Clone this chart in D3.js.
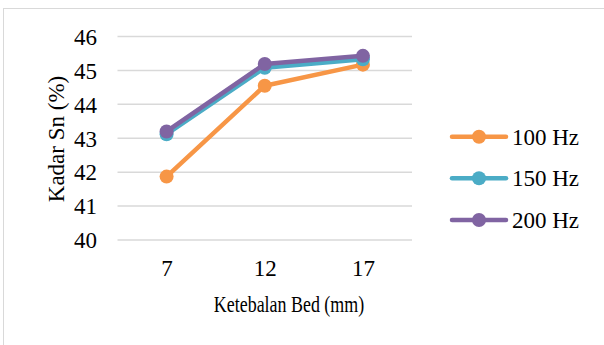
<!DOCTYPE html>
<html>
<head>
<meta charset="utf-8">
<script src="https://cdn.jsdelivr.net/npm/d3@7"></script>
<style>
  html, body { margin: 0; padding: 0; background: #fff; }
  svg { display: block; }
</style>
</head>
<body>
<svg id="chart" width="604" height="345"></svg>
<script>
const categories = ["7", "12", "17"];
const seriesNames = ["100 Hz", "150 Hz", "200 Hz"];
const values100 = [41.87, 44.55, 45.17];
const values150 = [43.12, 45.08, 45.33];
const values200 = [43.20, 45.19, 45.43];
const yTicks = [40, 41, 42, 43, 44, 45, 46];
const colors = ["#F79646", "#4BACC6", "#8064A2"];

const FONT = "Liberation Serif";
const series = [values100, values150, values200].map((v, i) => ({ name: seriesNames[i], values: v, color: colors[i] }));

const svg = d3.select("#chart");
svg.append("rect").attr("x", 3.5).attr("y", 8.5).attr("width", 620).attr("height", 360)
  .attr("fill", "#fff").attr("stroke", "#d9d9d9").attr("stroke-width", 1);

const x = d3.scalePoint().domain(categories).range([117.5, 412]).padding(0.5);
const y = d3.scaleLinear().domain([40, 46]).range([240, 36.5]);

// gridlines
svg.append("g").selectAll("line").data(yTicks).join("line")
  .attr("x1", 117.5).attr("x2", 412)
  .attr("y1", d => y(d)).attr("y2", d => y(d))
  .attr("stroke", "#d9d9d9").attr("stroke-width", 1.5);

// y axis labels
const yAxis = d3.axisLeft(y).tickValues(yTicks).tickSize(0).tickPadding(0).tickFormat(d3.format("d"));
const gy = svg.append("g").attr("transform", "translate(97,0)").call(yAxis);
gy.attr("font-family", null).attr("font-size", null);
gy.select(".domain").remove();
gy.selectAll("text").style("font-family", FONT).style("font-size", "23px").attr("dy", "0.34em").attr("fill", "#000");

// x axis labels
const xAxis = d3.axisBottom(x).tickSize(0).tickPadding(0);
const gx = svg.append("g").attr("transform", "translate(0,260)").call(xAxis);
gx.attr("font-family", null).attr("font-size", null);
gx.select(".domain").remove();
gx.selectAll("text").style("font-family", FONT).style("font-size", "23px").attr("dy", "0.71em").attr("fill", "#000");

// series
const line = d3.line().x((d, i) => x(categories[i])).y(d => y(d));
series.forEach(s => {
  const g = svg.append("g");
  g.append("path").attr("d", line(s.values)).attr("fill", "none")
    .attr("stroke", s.color).attr("stroke-width", 4.5).attr("stroke-linejoin", "round");
  g.selectAll("circle").data(s.values).join("circle")
    .attr("cx", (d, i) => x(categories[i])).attr("cy", d => y(d)).attr("r", 7)
    .attr("fill", s.color);
});

// axis titles
svg.append("text").attr("transform", "translate(289,312) scale(0.78,1)").attr("text-anchor", "middle")
  .style("font-family", FONT).style("font-size", "23px").text("Ketebalan Bed (mm)");
svg.append("text").attr("transform", "translate(64,139) rotate(-90)").attr("text-anchor", "middle")
  .style("font-family", FONT).style("font-size", "23px").text("Kadar Sn (%)");

// legend
const legendY = [136.7, 178.3, 220];
series.forEach((s, i) => {
  const g = svg.append("g").attr("transform", `translate(0,${legendY[i]})`);
  g.append("line").attr("x1", 452).attr("x2", 506).attr("y1", 0).attr("y2", 0)
    .attr("stroke", s.color).attr("stroke-width", 4.5).attr("stroke-linecap", "round");
  g.append("circle").attr("cx", 479).attr("cy", 0).attr("r", 7).attr("fill", s.color);
  g.append("text").attr("x", 512).attr("y", 0).attr("dy", "0.34em")
    .style("font-family", FONT).style("font-size", "23px").text(s.name);
});
</script>
</body>
</html>
